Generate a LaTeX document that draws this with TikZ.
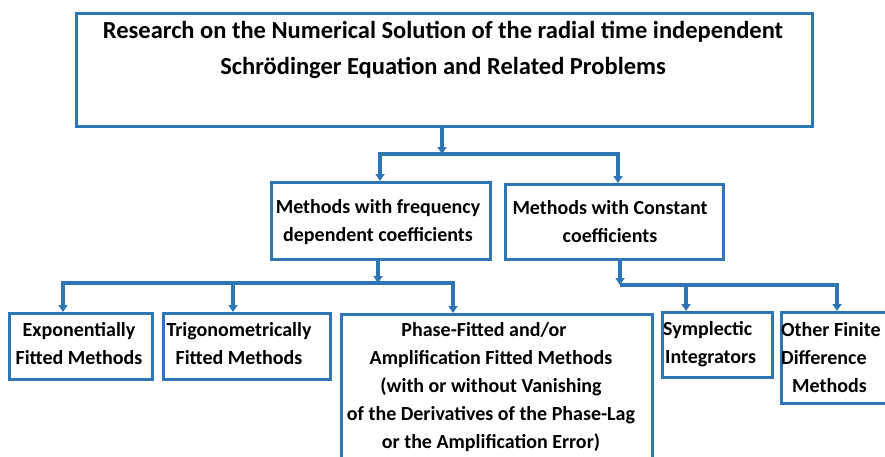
\documentclass[tikz,border=0pt]{standalone}
\usepackage{fontspec}
\setmainfont{Carlito}
\usetikzlibrary{arrows.meta}
\definecolor{bl}{RGB}{46,117,182}
\begin{document}
\begin{tikzpicture}[x=1pt,y=-1pt,
 box/.style={draw=bl,line width=2.5pt,inner sep=0pt,anchor=north west},
 txt/.style={font=\bfseries\fontsize{20}{28}\selectfont,align=center,inner sep=0pt},
 ttl/.style={font=\bfseries\fontsize{24.5}{36}\selectfont,align=center,inner sep=0pt},
 conn/.style={draw=bl,line width=3.2pt,line join=miter},
 >={Triangle[width=9pt,length=7pt]}]
\clip (0,0) rectangle (885,456);
\useasboundingbox (0,0) rectangle (885,456);
% boxes
\node[box,minimum width=736,minimum height=113] (top) at (75,12) {};
\node[box,minimum width=219,minimum height=77] (fq) at (270,181) {};
\node[box,minimum width=218,minimum height=75] (ct) at (504,183) {};
\node[box,minimum width=143,minimum height=66] (ex) at (8,312) {};
\node[box,minimum width=167,minimum height=66] (tr) at (162,312) {};
\node[box,minimum width=311,minimum height=160] (ph) at (340,313) {};
\node[box,minimum width=110,minimum height=65] (sy) at (661,311) {};
\node[box,minimum width=120,minimum height=91] (of) at (780,311) {};
% texts
\node[ttl] (ttop) at (443,50) {Research on the Numerical Solution of the radial time independent\\Schrödinger Equation and Related Problems};
\node[txt] (tfq) at (378,222) {Methods with frequency\\dependent coefficients};
\node[txt] (tct) at (610,222) {Methods with Constant\\coefficients};
\node[txt] (tex) at (79,344) {Exponentially\\Fitted Methods};
\node[txt] (ttr) at (239,344) {Trigonometrically\\Fitted Methods};
\node[txt] (tph) at (491,387) {Phase-Fitted and/or\rule{14pt}{0pt}\\Amplification Fitted Methods\\(with or without Vanishing\\of the Derivatives of the Phase-Lag\\or the Amplification Error)};
\node[txt,align=left,anchor=west] (tsy) at (663,344) {Symplectic\\\hspace{2pt}Integrators};
\node[txt,align=left,anchor=west] (tof) at (781,358) {Other Finite\\Difference\\\hspace{11pt}Methods};
% junction coordinates
\coordinate (j1) at (442,154);
\coordinate (a1) at (380,154);
\coordinate (b1) at (618,154);
\coordinate (j2) at (378,283);
\coordinate (a2) at (63,283);
\coordinate (b2) at (233,283);
\coordinate (c2) at (453,283);
\coordinate (j3) at (620,285);
\coordinate (a3) at (686,285);
\coordinate (b3) at (837,285);
% connectors
\draw[conn,->] (j1 |- top.south) -- (j1);
\draw[conn,<->] (a1 |- fq.north) -- (a1) -- (b1) -- (b1 |- ct.north);
\draw[conn,->] (j2 |- fq.south) -- (j2);
\draw[conn,<->] (a2 |- ex.north) -- (a2) -- (c2) -- (c2 |- ph.north);
\draw[conn,->] (b2) -- (b2 |- tr.north);
\draw[conn,->] (j3 |- ct.south) -- (j3);
\draw[conn,->] (j3) -- (a3) -- (a3 |- sy.north);
\draw[conn,->] (a3) -- (b3) -- (b3 |- of.north);
\end{tikzpicture}
\end{document}
